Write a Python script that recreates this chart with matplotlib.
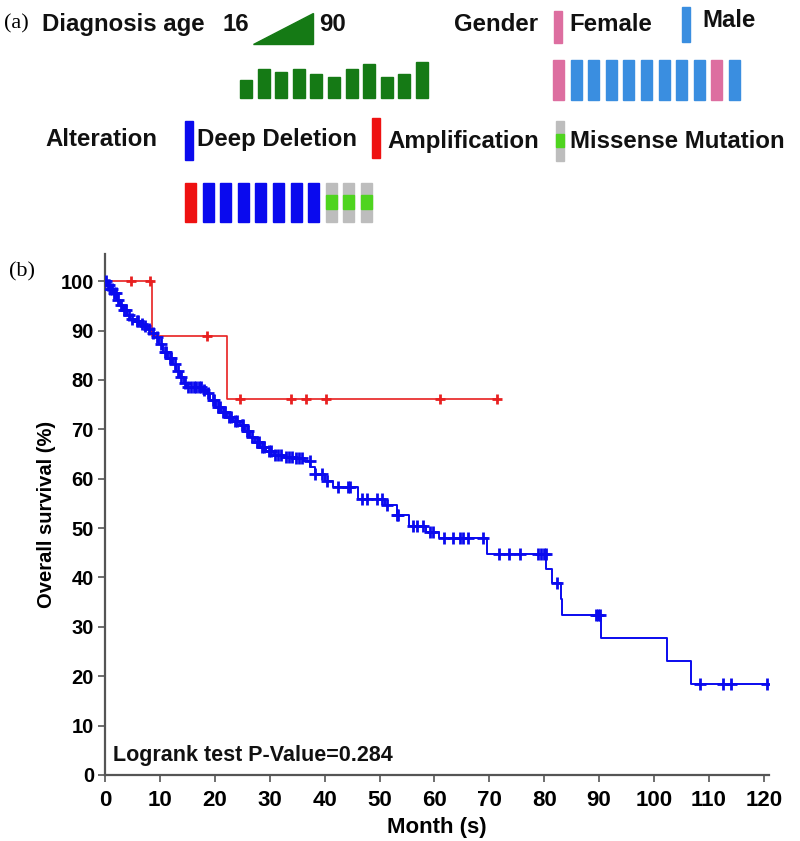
import matplotlib
matplotlib.use("Agg")
import matplotlib.pyplot as plt
import numpy as np
from matplotlib.patches import Rectangle, Polygon

plt.rcParams['font.family'] = ['Liberation Sans', 'DejaVu Sans']

# ---------------- data ----------------
ages = [40, 64, 57, 64, 53, 46, 64, 75, 46, 53, 79]
genders = ['F', 'M', 'M', 'M', 'M', 'M', 'M', 'M', 'M', 'F', 'M']
alterations = ['AMP', 'DEL', 'DEL', 'DEL', 'DEL', 'DEL', 'DEL', 'DEL', 'MIS', 'MIS', 'MIS']

# Altered group KM steps
alt_times = [0, 8.5, 22.3]
alt_surv = [100, 88.9, 76.2]
alt_end = 71.4
alt_censor = [4.7, 8.2, 18.6, 24.6, 33.8, 36.6, 40.3, 61.0, 71.4]

# Unaltered group KM steps
unalt_times = [0, 0.3, 0.9, 1.5, 2.1, 2.7, 3.3, 4.0, 4.6, 5.5, 6.4, 7.0, 7.6, 8.4, 9.1,
               9.8, 10.6, 11.5, 12.4, 13.0, 13.6, 14.3, 15.0, 17.8, 18.5, 19.2, 20.3,
               21.2, 22.2, 23.4, 24.6, 25.5, 26.4, 27.3, 28.2, 29.4, 30.7, 32.5, 34.3,
               36.0, 37.4, 38.2, 40.0, 41.5, 46.0, 51.0, 53.1, 55.4, 58.4, 60.9, 69.5,
               80.4, 81.5, 83.0, 83.3, 90.3, 102.4, 106.8]
unalt_surv = [100, 99.2, 98.4, 97.6, 96.2, 95.2, 94.1, 93.2, 92.4, 91.9, 91.4, 90.9, 90.4,
              89.6, 88.7, 87.2, 85.7, 84.5, 83.3, 81.8, 80.5, 79.3, 78.6, 77.9, 77.3, 75.9,
              74.5, 73.5, 72.5, 71.6, 70.8, 69.6, 68.5, 67.4, 66.4, 65.6, 64.8, 64.4, 64.1,
              63.5, 62.4, 60.9, 59.5, 58.4, 55.8, 54.7, 52.6, 50.4, 49.3, 47.9, 44.7,
              41.8, 38.8, 35.6, 32.3, 27.7, 23.1, 18.4]
unalt_end = 120.5
unalt_censor = [0.2, 0.5, 0.7, 1.0, 1.2, 1.7, 2.0, 2.4, 2.9, 3.5, 3.8, 4.3, 5.0, 5.8, 6.1,
                6.8, 7.3, 8.0, 8.7, 9.4, 10.2, 10.9, 11.2, 11.8, 12.1, 12.8, 13.3, 13.9,
                14.6, 15.2, 15.7, 16.2, 16.6, 17.1, 17.5, 18.1, 18.8, 19.6, 19.9, 20.6,
                20.9, 21.5, 21.9, 22.6, 22.9, 23.7, 24.1, 24.9, 25.2, 25.8, 26.1, 26.8,
                27.6, 28.0, 28.6, 29.0, 29.8, 30.2, 31.0, 31.5, 32.0, 33.0, 33.5, 34.0,
                34.8, 35.3, 35.8, 37.3, 38.3, 39.5, 40.4, 42.5, 44.3, 44.6, 46.8, 47.7,
                49.5, 50.4, 51.3, 53.1, 53.4, 56.1, 56.8, 58.0, 59.2, 59.8, 61.7, 63.4,
                64.6, 65.2, 66.1, 68.8, 71.8, 73.6, 75.6, 78.9, 79.4, 79.9, 80.3, 82.4,
                89.4, 89.8, 90.1, 108.4, 112.6, 114.0, 120.5]

x_ticks = list(range(0, 121, 10))
y_ticks = list(range(0, 101, 10))

# ---------------- figure ----------------
W, H = 800, 841
fig = plt.figure(figsize=(W / 100, H / 100), dpi=100)

# top panel (pixel coordinates)
ax0 = fig.add_axes([0, 0, 1, 1])
ax0.set_xlim(0, W)
ax0.set_ylim(H, 0)
ax0.axis('off')

GREEN = '#157a15'
PINK = '#dd6ea0'
LBLUE = '#3a8ee0'
DBLUE = '#0a0aee'
RED = '#ee1111'
GRAY = '#bdbdbd'
LGREEN = '#4fd41f'

bold = dict(fontweight='bold', fontsize=17.3, va='center', ha='left', color='#111111')
serif = dict(family=['Liberation Serif', 'DejaVu Serif'], fontsize=16, va='center', ha='left')
ax0.text(4, 24, '(a)', **serif)
ax0.text(42, 24, 'Diagnosis age', **bold)
ax0.text(222, 24, '16', **bold)
ax0.add_patch(Polygon([(253, 44), (313, 44), (313, 13)], closed=True, color=GREEN))
ax0.text(319, 24, '90', **bold)
ax0.text(454, 24, 'Gender', **bold)
ax0.add_patch(Rectangle((554, 11), 8, 32, color=PINK))
ax0.text(569, 24, 'Female', **bold)
ax0.add_patch(Rectangle((682, 7), 8, 35, color=LBLUE))
ax0.text(702, 20, 'Male', **bold)

ax0.text(45, 139, 'Alteration', **bold)
ax0.add_patch(Rectangle((185, 121), 8, 39, color=DBLUE))
ax0.text(197, 139, 'Deep Deletion', **bold)
ax0.add_patch(Rectangle((372, 118), 8, 40, color=RED))
ax0.text(387, 141, 'Amplification', **bold)
ax0.add_patch(Rectangle((556, 121), 8, 40, color=GRAY))
ax0.add_patch(Rectangle((556, 134), 8, 13, color=LGREEN))
ax0.text(570, 141, 'Missense Mutation', **bold)

pitch = 17.6
# age bars
for i, a in enumerate(ages):
    h = a / 90 * 41
    ax0.add_patch(Rectangle((240 + i * pitch, 98 - h), 12, h, color=GREEN))
# gender bars
for i, g in enumerate(genders):
    ax0.add_patch(Rectangle((553 + i * pitch, 60), 11, 40, color=PINK if g == 'F' else LBLUE))
# alteration bars
for i, al in enumerate(alterations):
    x = 185 + i * pitch
    if al == 'AMP':
        ax0.add_patch(Rectangle((x, 183), 11, 39, color=RED))
    elif al == 'DEL':
        ax0.add_patch(Rectangle((x, 183), 11, 39, color=DBLUE))
    else:
        ax0.add_patch(Rectangle((x, 183), 11, 39, color=GRAY))
        ax0.add_patch(Rectangle((x, 195), 11, 14, color=LGREEN))

# ---------------- KM panel ----------------
x0, x1 = 105, 769.3
yb, yt = 775, 254
ax = fig.add_axes([x0 / W, (H - yb) / H, (x1 - x0) / W, (yb - yt) / H])
ax.set_xlim(0, 121)
ax.set_ylim(0, 105.5)


def km(ax, times, surv, end, cens, color, lw, ms):
    t = list(times) + [end]
    s = list(surv) + [surv[-1]]
    ax.step(t, s, where='post', color=color, lw=lw, zorder=3)
    idx = np.searchsorted(np.array(times), np.array(cens), side='right') - 1
    cy = np.array(surv)[idx]
    ax.plot(cens, cy, linestyle='none', marker='+', color=color, ms=ms, mew=2, zorder=4)


km(ax, unalt_times, unalt_surv, unalt_end, unalt_censor, DBLUE, 1.4, 8)
km(ax, alt_times, alt_surv, alt_end, alt_censor, '#e82020', 1.2, 7)

for sp in ['top', 'right']:
    ax.spines[sp].set_visible(False)
for sp in ['left', 'bottom']:
    ax.spines[sp].set_color('#555555')
    ax.spines[sp].set_linewidth(1.6)
ax.set_xticks(x_ticks)
ax.set_yticks(y_ticks)
ax.tick_params(axis='both', direction='out', length=5, width=1.2, color='#555555')
ax.set_xticklabels([str(v) for v in x_ticks], fontweight='bold', fontsize=16)
ax.set_yticklabels([str(v) for v in y_ticks], fontweight='bold', fontsize=14.5)
ax.tick_params(axis='x', pad=6)
ax.tick_params(axis='y', pad=3)
ax.set_xlabel('Month (s)', fontweight='bold', fontsize=16, labelpad=4)
ax.set_ylabel('Overall survival (%)', fontweight='bold', fontsize=14.5, labelpad=3)

ax.text(1.5, 3.9, 'Logrank test P-Value=0.284', fontweight='bold', fontsize=15.5,
        va='center', ha='left', color='#111111')

# legend
leg = dict(bold, fontsize=16.8)
ax0.add_patch(Rectangle((566, 264), 12, 12, color='#ee1111'))
ax0.text(589, 271, 'Altered group', **leg)
ax0.add_patch(Rectangle((566, 302), 12, 12, color=DBLUE))
ax0.text(589, 308, 'Unaltered group', **leg)
ax0.text(9, 272, '(b)', **serif)

fig.savefig('out.png', dpi=100)
